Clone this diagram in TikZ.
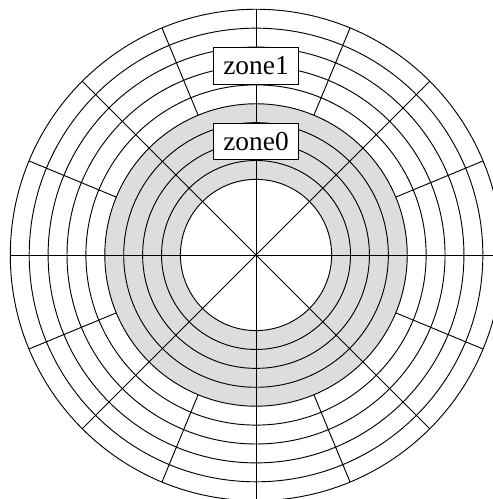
\documentclass[tikz,border=0pt]{standalone}
\usepackage{fontspec}
\setmainfont{Liberation Serif}
\definecolor{zonegray}{RGB}{221,221,221}
\tikzset{
	zonelabel/.style={draw,fill=white,line width=0.6pt,inner xsep=0.26cm,inner ysep=0pt,minimum height=0.96cm,font=\fontsize{20.6}{24}\selectfont},
	track/.style={line width=0.7pt}
}
\begin{document}
\begin{tikzpicture}[xscale=0.5,yscale=0.5]
			\useasboundingbox (-13.545,-12.91) rectangle (12.487,13.49);
			\fill[zonegray,even odd rule] (0,0) circle (8) (0,0) circle (4);
			\draw[track] (0,0) circle (4);
			\draw[track] (0,0) circle (5);
			\draw[track] (0,0) circle (6);
			\draw[track] (0,0) circle (7);
			\draw[track] (0,0) circle (8);
			\draw[track] (0,0) circle (9);
			\draw[track] (0,0) circle (10);
			\draw[track] (0,0) circle (11);
			\draw[track] (0,0) circle (12);
			\draw[track] (0,0) circle (13);
			\draw[track] (0:13) -- (180:13);
			\draw[track] (45:13) -- (225:13);
			\draw[track] (90:13) -- (270:13);
			\draw[track] (135:13) -- (315:13);
			\draw[track] (22.5:8) -- (22.5:13);
			\draw[track] (67.5:8) -- (67.5:13);
			\draw[track] (112.5:8) -- (112.5:13);
			\draw[track] (157.5:8) -- (157.5:13);
			\draw[track] (202.5:8) -- (202.5:13);
			\draw[track] (247.5:8) -- (247.5:13);
			\draw[track] (292.5:8) -- (292.5:13);
			\draw[track] (337.5:8) -- (337.5:13);
			\node[zonelabel] (zoneone) at (0,10) {zone1};
			\node[zonelabel] (zonezero) at (0,6) {zone0};
		\end{tikzpicture}
\end{document}
